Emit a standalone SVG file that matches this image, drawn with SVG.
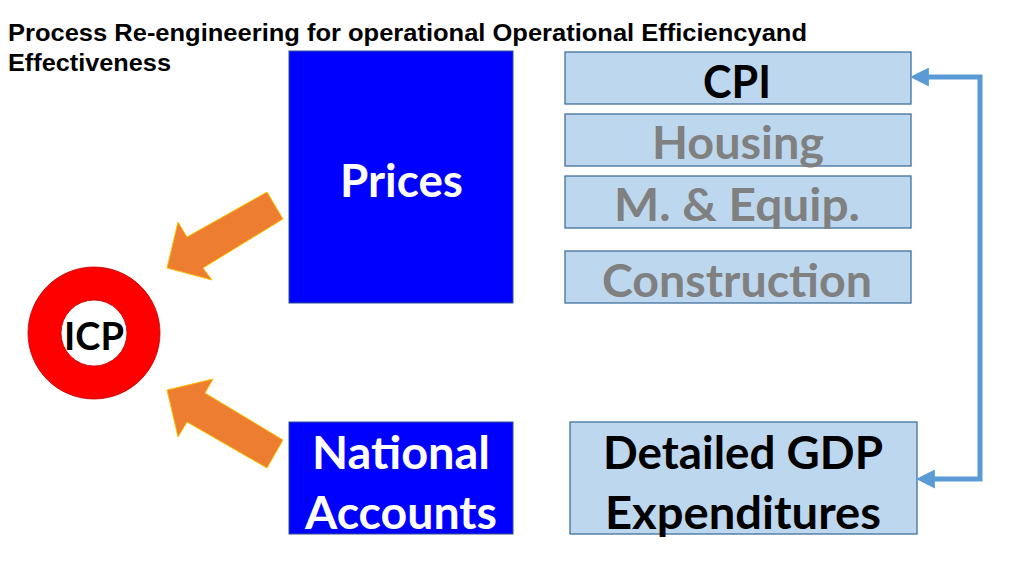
<svg xmlns="http://www.w3.org/2000/svg" width="1024" height="575" viewBox="0 0 1024 575">
<style>
.title{font-family:"Liberation Sans",Arial,sans-serif;font-weight:bold;font-size:23.5px;fill:#000}
.lbl{font-family:Lato,"Noto Sans",sans-serif;font-weight:bold;font-size:46px;text-anchor:middle}
.dark{fill:#0000FF;stroke:#2F528F;stroke-width:1}
.light{fill:#BDD7EE;stroke:#41719C;stroke-width:1.3}
.white{fill:#FFFFFF}
.black{fill:#000000}
.gray{fill:#808080}
.orange{fill:#ED7D31;stroke:#FFC000;stroke-width:1}
.conn{fill:none;stroke:#5B9BD5;stroke-width:5}
</style>
<defs>
<marker id="ah" viewBox="0 0 10 10" refX="1" refY="5" markerWidth="3.8" markerHeight="3.8" orient="auto-start-reverse" markerUnits="strokeWidth">
<path d="M0,0 L10,5 L0,10 Z" fill="#5B9BD5"/>
</marker>
</defs>
<rect width="1024" height="575" fill="#FFFFFF"/>
<text class="title" x="8" y="41" textLength="799" lengthAdjust="spacingAndGlyphs">Process Re-engineering for operational Operational Efficiencyand</text>
<text class="title" x="8" y="71" textLength="163" lengthAdjust="spacingAndGlyphs">Effectiveness</text>

<g id="prices"><rect class="dark" x="289" y="51" width="224" height="252"/><text class="lbl white" x="401.5" y="197" textLength="123" lengthAdjust="spacingAndGlyphs">Prices</text></g>
<g id="national-accounts"><rect class="dark" x="289" y="422" width="224" height="112"/><text class="lbl white" x="401" y="469" textLength="178" lengthAdjust="spacingAndGlyphs">National</text><text class="lbl white" x="401" y="529" textLength="192" lengthAdjust="spacingAndGlyphs">Accounts</text></g>
<g id="cpi"><rect class="light" x="565" y="52" width="346" height="52"/><text class="lbl black" x="737" y="98" textLength="68" lengthAdjust="spacingAndGlyphs">CPI</text></g>
<g id="housing"><rect class="light" x="565" y="114" width="346" height="52"/><text class="lbl gray" x="738" y="159" textLength="172" lengthAdjust="spacingAndGlyphs">Housing</text></g>
<g id="equip"><rect class="light" x="565" y="176" width="346" height="52"/><text class="lbl gray" x="737" y="221" textLength="246" lengthAdjust="spacingAndGlyphs">M. &amp; Equip.</text></g>
<g id="construction"><rect class="light" x="565" y="251" width="346" height="52"/><text class="lbl gray" x="737" y="297" textLength="270" lengthAdjust="spacingAndGlyphs">Construction</text></g>
<g id="gdp"><rect class="light" x="570" y="422" width="347" height="112"/><text class="lbl black" x="743" y="469" textLength="280" lengthAdjust="spacingAndGlyphs">Detailed GDP</text><text class="lbl black" x="743" y="529" textLength="276" lengthAdjust="spacingAndGlyphs">Expenditures</text></g>
<g id="icp"><path d="M28,333 a66,66 0 1,0 132,0 a66,66 0 1,0 -132,0 Z M61,333 a33,33 0 1,1 66,0 a33,33 0 1,1 -66,0 Z" fill="#FF0000" fill-rule="evenodd" stroke="#C00000" stroke-width="0.8"/><text class="lbl black" x="94" y="350" style="font-size:38px">ICP</text></g>

<g id="connectors">
<polygon class="orange" points="267,192 283,219 203,268 212,280 167,268 178,222 187,237"/>
<polygon class="orange" points="283,440 267,468 187,422 178,437 167,390 213,379 205,393"/>
<path class="conn" d="M933,479 H980 V77 H927" marker-start="url(#ah)" marker-end="url(#ah)"/>
</g>
</svg>
